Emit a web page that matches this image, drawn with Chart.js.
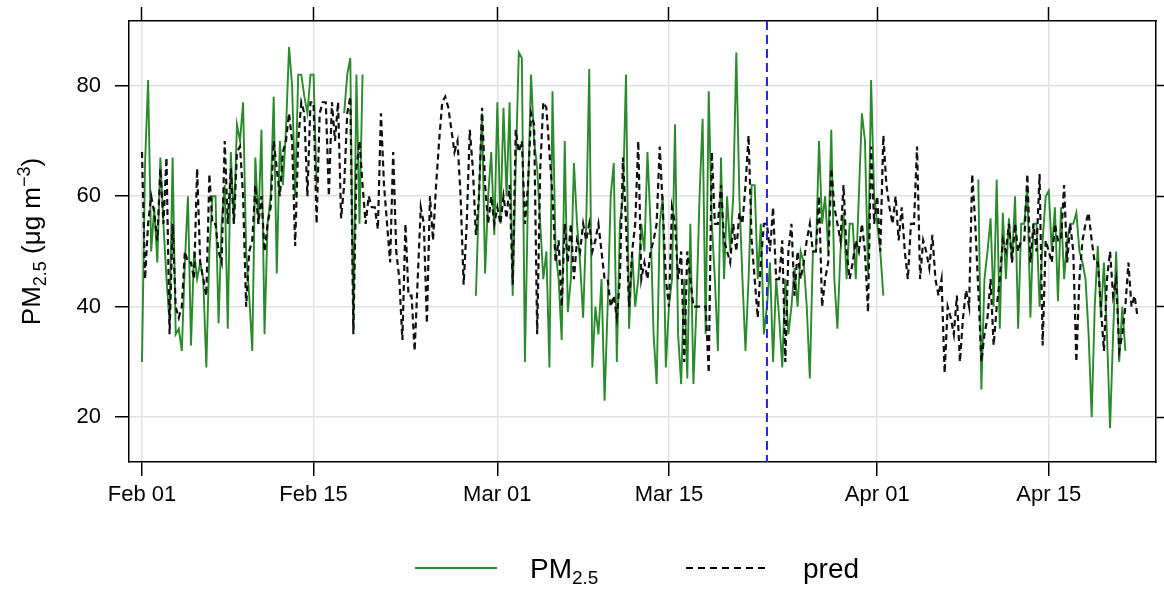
<!DOCTYPE html>
<html>
<head>
<meta charset="utf-8">
<script src="https://cdn.jsdelivr.net/npm/chart.js@4.4.1/dist/chart.umd.min.js"></script>
<style>
  html, body { margin: 0; padding: 0; background: #fff; }
</style>
</head>
<body>
<canvas id="chart" width="1164" height="591"></canvas>
<script>
// 4 samples per day, day 0 = Feb 01 00:00
const stepsPerDay = 4;
const xTickDays = [0, 14, 29, 43, 60, 74];
const xTickLabels = ['Feb 01', 'Feb 15', 'Mar 01', 'Mar 15', 'Apr 01', 'Apr 15'];
const yTicks = [20, 40, 60, 80];
const splitDay = 51; // Mar 23

// observed PM2.5 (null = missing)
const pm25 = [
  30, 66, 81, 50,  58, 48, 67, 55,  45, 37, 67, 35,  36, 32, 48, 60,
  33, 50, 45, 48,  45, 29, 50, 60,  60, 37, 55, 62,  36, 68, 55, 73,
  70, 77, 50, 42,  32, 67, 55, 72,  35, 55, 60, 78,  46, 70, 62, 72,
  87, 80, 60, 82,  82, 78, 75, 82,  82, 62, null, null,  null, null, null, null,
  null, null, 75, 82,  85, 36, 82, 55,  82, null, null, null,  null, null, null, null,
  null, null, null, null,  null, null, null, null,  null, null, null, null,  null, null, null, null,
  null, null, null, null,  null, null, null, null,  null, null, null, null,  null, 42, 60, 75,
  46, 60, 68, 53,  77, 55, 76, 60,  77, 42, 65, 86,  85, 30, 60, 82,
  70, 65, 55, 45,  50, 29, 79, 50,  45, 34, 70, 39,  45, 66, 55, 48,
  38, 55, 83, 29,  40, 35, 45, 23,  40, 60, 66, 30,  55, 60, 82, 36,
  50, 40, 45, 55,  50, 68, 55, 35,  26, 55, 60, 29,  40, 45, 73, 35,
  26, 45, 27, 55,  26, 40, 60, 74,  35, 79, 55, 45,  32, 67, 45, 60,
  50, 60, 86, 60,  45, 32, 45, 62,  62, 45, 55, 35,  40, 48, 30, 45,
  38, 29, 45, 35,  40, 47, 40, 50,  48, 40, 27, 50,  50, 70, 55, 60,
  50, 72, 45, 36,  50, 57, 45, 55,  55, 45, 60, 75,  70, 46, 81, 60,
  55, 50, 42, null,  null, null, null, null,  null, null, null, null,  null, null, null, null,
  null, null, null, null,  null, null, null, null,  null, null, null, null,  null, null, null, null,
  null, 63, 25, 45,  50, 56, 40, 63,  36, 57, 45, 56,  48, 60, 36, 55,
  55, 62, 38, 55,  55, 40, 52, 60,  61, 50, 58, 41,  58, 45, 52, 55,
  55, 57, 50, 48,  45, 35, 20, 40,  51, 38, 48, 35,  18, 35, 50, 30,
  40, 32
];

// model prediction
const pred = [
  68, 45, 55, 60,  57, 52, 65, 55,  67, 35, 55, 40,  38, 40, 50, 48,
  48, 45, 65, 48,  45, 42, 64, 55,  55, 50, 48, 70,  55, 65, 55, 68,
  69, 60, 40, 50,  52, 62, 55, 60,  50, 55, 58, 70,  65, 60, 68, 70,
  75, 70, 51, 70,  77, 75, 60, 77,  77, 55, 75, 77,  77, 60, 77, 70,
  77, 56, 62, 75,  78, 35, 65, 70,  62, 55, 60, 58,  58, 54, 75, 62,
  55, 48, 68, 50,  45, 34, 55, 42,  42, 32, 45, 58,  55, 37, 60, 52,
  62, 70, 77, 78,  76, 72, 68, 70,  60, 44, 55, 72,  65, 53, 60, 76,
  62, 55, 60, 55,  58, 55, 60, 56,  62, 44, 72, 68,  70, 55, 62, 75,
  73, 35, 65, 77,  76, 68, 60, 48,  52, 40, 55, 48,  55, 45, 52, 50,
  55, 52, 55, 50,  52, 55, 50, 45,  45, 40, 42, 38,  45, 67, 55, 40,
  50, 55, 70, 45,  48, 45, 50, 52,  55, 69, 58, 45,  40, 58, 55, 45,
  50, 30, 50, 45,  40, 40, 40, 40,  40, 28, 68, 55,  55, 62, 52, 50,
  48, 55, 50, 57,  55, 62, 71, 52,  45, 38, 48, 55,  55, 50, 58, 45,
  45, 52, 30, 50,  55, 42, 50, 45,  48, 52, 55, 50,  50, 60, 40, 45,
  48, 65, 58, 55,  52, 62, 50, 45,  48, 52, 50, 55,  50, 39, 69, 55,
  60, 50, 71, 62,  58, 55, 60, 52,  58, 50, 45, 55,  55, 69, 45, 52,
  50, 47, 53, 45,  42, 45, 28, 40,  38, 35, 42, 30,  38, 43, 40, 64,
  55, 43, 30, 35,  38, 45, 33, 40,  45, 52, 50, 55,  48, 55, 50, 52,
  52, 64, 48, 55,  50, 64, 33, 52,  50, 48, 55, 52,  52, 62, 48, 55,
  50, 30, 45, 52,  55, 57, 52, 48,  48, 40, 32, 45,  50, 42, 45, 32,
  35, 40, 48, 40,  42, 38
];

const toPoints = arr => arr.map((v, i) => ({ x: i / stepsPerDay, y: v }));

const font = 'Liberation Sans, Arial, sans-serif';
const gridColor = '#e2e2e2';

function xTicks(scale) {
  scale.ticks = xTickDays.map(v => ({ value: v }));
}
function yTickBuild(scale) {
  scale.ticks = yTicks.map(v => ({ value: v }));
}
// fixed widths, no extra padding for half labels
function fitY(width) {
  return s => {
    s.width = width;
    s.paddingTop = 0;
    s.paddingBottom = 0;
  };
}

// PM2.5 style text with sub/superscripts
function richText(ctx, parts, x, y, align) {
  let total = 0;
  parts.forEach(p => {
    ctx.font = p.size + 'px ' + font;
    p.w = ctx.measureText(p.t).width;
    total += p.w;
  });
  let cx = align === 'center' ? x - total / 2 : x;
  parts.forEach(p => {
    ctx.font = p.size + 'px ' + font;
    ctx.fillText(p.t, cx, y + (p.dy || 0));
    cx += p.w;
  });
}

const extras = {
  id: 'extras',
  afterDatasetsDraw(chart) {
    const { ctx, chartArea, scales } = chart;
    const px = scales.x.getPixelForValue(splitDay);
    ctx.save();
    ctx.strokeStyle = '#2424d8';
    ctx.lineWidth = 2;
    ctx.setLineDash([9, 5]);
    ctx.beginPath();
    ctx.moveTo(px, chartArea.top);
    ctx.lineTo(px, chartArea.bottom);
    ctx.stroke();
    ctx.restore();
  },
  afterDraw(chart) {
    const { ctx, chartArea } = chart;
    ctx.save();
    ctx.fillStyle = '#000';
    ctx.textBaseline = 'alphabetic';

    // y axis title
    ctx.translate(40, (chartArea.top + chartArea.bottom) / 2);
    ctx.rotate(-Math.PI / 2);
    richText(ctx, [
      { t: 'PM', size: 26 },
      { t: '2.5', size: 18, dy: 6 },
      { t: ' (\u03bcg m', size: 26 },
      { t: '\u22123', size: 18, dy: -10 },
      { t: ')', size: 26 }
    ], 0, 0, 'center');
    ctx.restore();

    // legend
    ctx.save();
    ctx.lineWidth = 2;
    ctx.strokeStyle = '#2b8a2b';
    ctx.beginPath();
    ctx.moveTo(415, 568);
    ctx.lineTo(497, 568);
    ctx.stroke();
    ctx.strokeStyle = '#000';
    ctx.setLineDash([7, 5]);
    ctx.beginPath();
    ctx.moveTo(686, 568);
    ctx.lineTo(770, 568);
    ctx.stroke();
    ctx.setLineDash([]);
    ctx.fillStyle = '#000';
    richText(ctx, [
      { t: 'PM', size: 28 },
      { t: '2.5', size: 19, dy: 6 }
    ], 530, 578, 'left');
    richText(ctx, [{ t: 'pred', size: 28 }], 803, 578, 'left');
    ctx.restore();
  }
};

new Chart(document.getElementById('chart'), {
  type: 'line',
  data: {
    datasets: [
      {
        label: 'PM2.5',
        data: toPoints(pm25),
        borderColor: '#2b8a2b',
        borderWidth: 1.9,
        pointRadius: 0,
        spanGaps: false,
        tension: 0,
        order: 1
      },
      {
        label: 'pred',
        data: toPoints(pred),
        borderColor: '#111',
        borderWidth: 2.2,
        borderDash: [6, 4],
        pointRadius: 0,
        tension: 0,
        order: 0
      }
    ]
  },
  options: {
    responsive: false,
    animation: false,
    layout: { padding: 0 },
    plugins: { legend: { display: false }, tooltip: { enabled: false } },
    scales: {
      x: {
        type: 'linear',
        position: 'bottom',
        min: -1.06,
        max: 82.75,
        afterBuildTicks: xTicks,
        afterFit: s => { s.height = 129; },
        ticks: {
          callback: v => xTickLabels[xTickDays.indexOf(v)],
          font: { family: font, size: 22 },
          color: '#000',
          maxRotation: 0,
          autoSkip: false,
          padding: 6
        },
        grid: { color: gridColor, lineWidth: 1.5, tickColor: '#000', tickLength: 14, tickWidth: 1.5 },
        border: { color: '#000', width: 1.5 }
      },
      x2: {
        type: 'linear',
        position: 'top',
        min: -1.06,
        max: 82.75,
        afterBuildTicks: xTicks,
        afterFit: s => { s.height = 21; },
        ticks: { display: false },
        grid: { drawOnChartArea: false, tickColor: '#000', tickLength: 14, tickWidth: 1.5 },
        border: { color: '#000', width: 1.5 }
      },
      y: {
        position: 'left',
        min: 11.9,
        max: 91.7,
        afterBuildTicks: yTickBuild,
        afterFit: fitY(129),
        ticks: { font: { family: font, size: 22 }, color: '#000', padding: 14 },
        grid: { color: gridColor, lineWidth: 1.5, tickColor: '#000', tickLength: 14, tickWidth: 1.5 },
        border: { color: '#000', width: 1.5 }
      },
      y2: {
        position: 'right',
        min: 11.9,
        max: 91.7,
        afterBuildTicks: yTickBuild,
        afterFit: fitY(8),
        ticks: { display: false },
        grid: { drawOnChartArea: false, tickColor: '#000', tickLength: 8, tickWidth: 1.5 },
        border: { color: '#000', width: 1.5 }
      }
    }
  },
  plugins: [extras]
});
</script>
</body>
</html>
